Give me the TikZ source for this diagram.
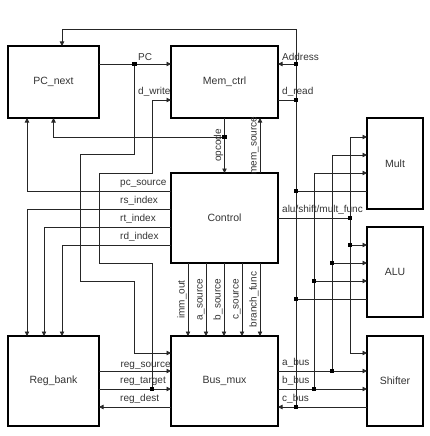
\documentclass[tikz,border=0pt]{standalone}
\usepackage{fontspec}
\setmainfont{Liberation Sans}
\usetikzlibrary{arrows.meta}

\begin{document}
\begin{tikzpicture}[x=1pt,y=-1pt,
          block/.style={draw, line width=1.8pt, inner sep=0pt, outer sep=0pt,
            text=black!80, font=\fontsize{10.5}{12}\selectfont},
          sig/.style={draw=black!85, line width=0.8pt},
          arr/.style={sig, -{Triangle[length=4.5pt,width=4.5pt]}},
          lab/.style={text=black!80, inner sep=1pt, font=\fontsize{10}{11}\selectfont},
          vlab/.style={lab, rotate=90, anchor=south},
          dot/.style={fill=black, rectangle, minimum size=4.2pt, inner sep=0pt}]

        \useasboundingbox (0,0) rectangle (430,436);

        \node[block, minimum width=91pt,  minimum height=72pt] (pcnext)  at (53.5,82)   {PC\_next};
        \node[block, minimum width=107pt, minimum height=72pt] (memctrl) at (224.5,82)  {Mem\_ctrl};
        \node[block, minimum width=107pt, minimum height=90pt] (control) at (224.5,218) {Control};
        \node[block, minimum width=91pt,  minimum height=90pt] (regbank) at (53.5,381)  {Reg\_bank};
        \node[block, minimum width=107pt, minimum height=90pt] (busmux)  at (224.5,381) {Bus\_mux};
        \node[block, minimum width=56pt,  minimum height=91pt] (mult)    at (395,163.5) {Mult};
        \node[block, minimum width=56pt,  minimum height=90pt] (alu)     at (395,272)   {ALU};
        \node[block, minimum width=56pt,  minimum height=90pt] (shifter) at (395,381)   {Shifter};

        \coordinate (pcj)  at (134.5,64);
        \coordinate (wrj)  at (152,389);
        \coordinate (opj)  at (224.5,137);
        \coordinate (adrj) at (296,64);
        \coordinate (rdj)  at (296,100);
        \coordinate (mulj) at (296,191);
        \coordinate (aluj) at (296,299);
        \coordinate (cj)   at (296,407);
        \coordinate (fnj)  at (350,218);
        \coordinate (fnaj) at (350,245);
        \coordinate (aj)   at (332,371);
        \coordinate (aaj)  at (332,263);
        \coordinate (bj)   at (314,389);
        \coordinate (baj)  at (314,281);

        % PC
        \draw[arr] (pcnext.east |- pcj) -- (memctrl.west |- pcj);
        \draw[arr] (pcj) |- (80,154) |- (134.5,281) |- (busmux.west |- 0,353);
        \node[lab, anchor=south west] at (137,62) {PC};

        % reg_bank <-> bus_mux, d_write
        \draw[arr] (regbank.east |- 0,371) -- node[lab, pos=0.28, anchor=south west]{reg\_source} (busmux.west |- 0,371);
        \draw[arr] (regbank.east |- wrj) -- (busmux.west |- wrj);
        \node[lab, anchor=south west] at (119,387) {reg\_target};
        \draw[arr] (busmux.west |- cj) -- (regbank.east |- cj);
        \node[lab, anchor=south west] at (119,405) {reg\_dest};
        \draw[arr] (wrj) |- (99,263) |- (152,173) |- (memctrl.west |- rdj);
        \node[lab, anchor=south west] at (137,98) {d\_write};

        % c_bus, address, d_read
        \draw[arr] (cj) -- (296,29) -| (pcnext.north -| 62,0);
        \draw[arr] (adrj) -- (memctrl.east |- adrj);
        \draw[sig] (memctrl.east |- rdj) -- (rdj);
        \draw[sig] (mult.west |- mulj) -- (mulj);
        \draw[sig] (alu.west |- aluj) -- (aluj);
        \draw[arr] (shifter.west |- cj) -- (busmux.east |- cj);
        \node[lab, anchor=south west] at (281,62)  {Address};
        \node[lab, anchor=south west] at (281,98)  {d\_read};
        \node[lab, anchor=south west] at (281,405) {c\_bus};

        % function select
        \draw[sig] (control.east |- fnj) -- (fnj);
        \draw[arr] (fnj) |- (mult.west |- 0,137);
        \draw[arr] (fnj) |- (shifter.west |- 0,353);
        \draw[arr] (fnaj) -- (alu.west |- fnaj);
        \node[lab, anchor=south west] at (281,216) {alu/shift/mult\_func};

        % a_bus, b_bus
        \draw[arr] (busmux.east |- aj) -- (shifter.west |- aj);
        \draw[arr] (aj) |- (mult.west |- 0,155);
        \draw[arr] (aaj) -- (alu.west |- aaj);
        \draw[arr] (busmux.east |- bj) -- (shifter.west |- bj);
        \draw[arr] (bj) |- (mult.west |- 0,173);
        \draw[arr] (baj) -- (alu.west |- baj);
        \node[lab, anchor=south west] at (281,369) {a\_bus};
        \node[lab, anchor=south west] at (281,387) {b\_bus};

        % opcode, mem_source
        \draw[arr] (memctrl.south) -- node[vlab]{opcode} (control.north);
        \draw[arr] (opj) -| (pcnext.south);
        \draw[arr] (control.north -| 260,0) -- node[vlab]{mem\_source} (memctrl.south -| 260,0);

        % control -> pc_next, reg_bank
        \draw[arr] (control.west |- 0,191) -| (pcnext.south -| 27,0);
        \draw[arr] (control.west |- 0,209) -| (regbank.north -| 27,0);
        \draw[arr] (control.west |- 0,227) -| (regbank.north -| 44,0);
        \draw[arr] (control.west |- 0,245) -| (regbank.north -| 62,0);
        \node[lab, anchor=south west] at (119,189) {pc\_source};
        \node[lab, anchor=south west] at (119,207) {rs\_index};
        \node[lab, anchor=south west] at (119,225) {rt\_index};
        \node[lab, anchor=south west] at (119,243) {rd\_index};

        % control -> bus_mux
        \draw[arr] (control.south -| 188,0) -- node[vlab]{imm\_out}     (busmux.north -| 188,0);
        \draw[arr] (control.south -| 206,0) -- node[vlab]{a\_source}    (busmux.north -| 206,0);
        \draw[arr] (control.south -| 224,0) -- node[vlab]{b\_source}    (busmux.north -| 224,0);
        \draw[arr] (control.south -| 242,0) -- node[vlab]{c\_source}    (busmux.north -| 242,0);
        \draw[arr] (control.south -| 260,0) -- node[vlab]{branch\_func} (busmux.north -| 260,0);

        \foreach \j in {pcj,wrj,opj,adrj,rdj,mulj,aluj,cj,fnj,fnaj,aj,aaj,bj,baj}
          \node[dot] at (\j) {};

      \end{tikzpicture}
\end{document}
